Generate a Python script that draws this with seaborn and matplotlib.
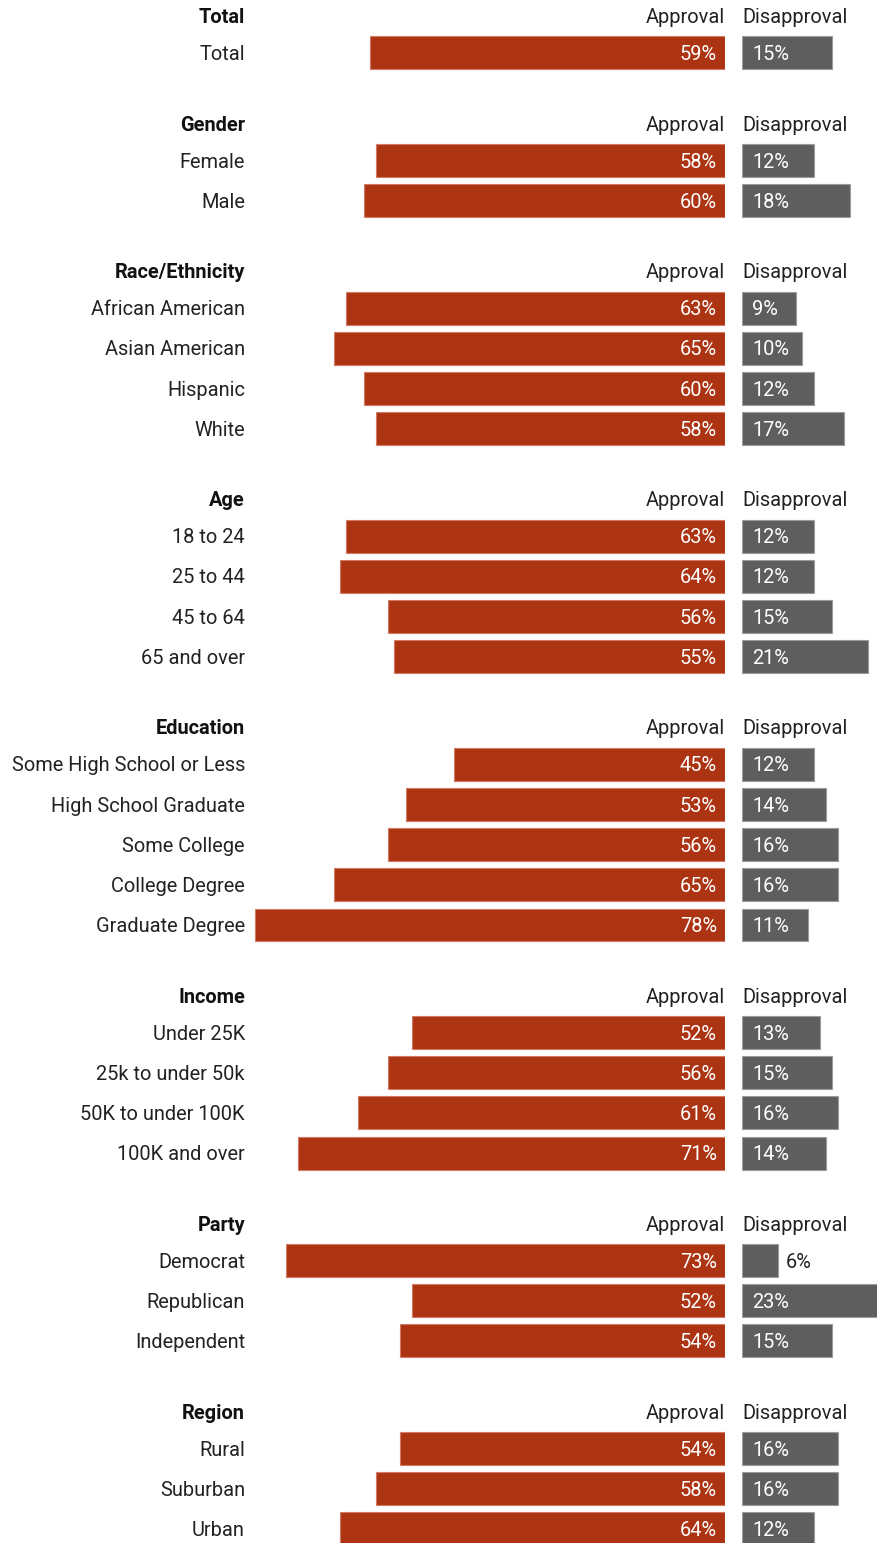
import numpy as np
import pandas as pd
import matplotlib.pyplot as plt
import seaborn as sns

# Data
groups = ['Total', 'Gender', 'Race/Ethnicity', 'Age', 'Education',
          'Income', 'Party', 'Region']
labels = [
    ['Total'],
    ['Female', 'Male'],
    ['African American', 'Asian American', 'Hispanic', 'White'],
    ['18 to 24', '25 to 44', '45 to 64', '65 and over'],
    ['Some High School or Less', 'High School Graduate', 'Some College',
     'College Degree', 'Graduate Degree'],
    ['Under 25K', '25k to under 50k', '50K to under 100K', '100K and over'],
    ['Democrat', 'Republican', 'Independent'],
    ['Rural', 'Suburban', 'Urban'],
]
approval = [
    [59],
    [58, 60],
    [63, 65, 60, 58],
    [63, 64, 56, 55],
    [45, 53, 56, 65, 78],
    [52, 56, 61, 71],
    [73, 52, 54],
    [54, 58, 64],
]
disapproval = [
    [15],
    [12, 18],
    [9, 10, 12, 17],
    [12, 12, 15, 21],
    [12, 14, 16, 16, 11],
    [13, 15, 16, 14],
    [6, 23, 15],
    [16, 16, 12],
]

red = '#ad3413'
gray = '#5e5e5e'

# Vertical layout in row units
header_gap = 0.92
group_gap = 1.76

rows = []
headers = []
y = 0.0
for g, labs, ap, dis in zip(groups, labels, approval, disapproval):
    headers.append((g, y))
    y += header_gap
    for i, (lab, a, d) in enumerate(zip(labs, ap, dis)):
        rows.append({'group': g, 'label': lab, 'y': y,
                     'approval': a, 'disapproval': d})
        if i < len(labs) - 1:
            y += 1
    y += group_gap
df = pd.DataFrame(rows)

sns.set_theme(style='white')
plt.rcParams['font.family'] = ['Roboto', 'DejaVu Sans']

W, H = 878, 1543
fig = plt.figure(figsize=(W / 100, H / 100), dpi=100)

px_per_pct = 6.02
row_px = 40.15
top_px = 16
bar_end = 725
dis_start = 742

ylim = ((H - top_px) / row_px, -top_px / row_px)

ax1 = fig.add_axes([0, 0, bar_end / W, 1])
ax2 = fig.add_axes([dis_start / W, 0, (W - dis_start) / W, 1])

sns.barplot(data=df, x='approval', y='y', orient='y', native_scale=True,
            color=red, saturation=1, width=0.82, errorbar=None,
            edgecolor='#d27a64', linewidth=0.8, ax=ax1)
sns.barplot(data=df, x='disapproval', y='y', orient='y', native_scale=True,
            color=gray, saturation=1, width=0.82, errorbar=None,
            edgecolor='#9c9c9c', linewidth=0.8, ax=ax2)

ax1.set_xlim(bar_end / px_per_pct, 0)
ax2.set_xlim(0, (W - dis_start) / px_per_pct)
for ax in (ax1, ax2):
    ax.set_ylim(*ylim)
    ax.axis('off')

fs = 14.4
label_x = 245 / W
txt = '#222222'
shift = 1.5 / row_px  # nudge text down a touch

def fig_y(yv):
    return 1 - (top_px + (yv + shift) * row_px) / H

# Group headers and column titles
for g, yv in headers:
    fig.text(label_x, fig_y(yv), g, ha='right', va='center',
             fontsize=fs, fontweight='bold', color='#111111')
    fig.text(bar_end / W, fig_y(yv), 'Approval', ha='right', va='center',
             fontsize=fs, color=txt)
    fig.text(dis_start / W, fig_y(yv), 'Disapproval', ha='left', va='center',
             fontsize=fs, color=txt)

# Row labels and value labels
for _, r in df.iterrows():
    fig.text(label_x, fig_y(r['y']), r['label'], ha='right', va='center',
             fontsize=fs, color=txt)
    yt = r['y'] + shift
    ax1.text(8 / px_per_pct, yt, f"{r['approval']}%",
             ha='right', va='center', fontsize=fs, color='white')
    if r['disapproval'] >= 8:
        ax2.text(10 / px_per_pct, yt, f"{r['disapproval']}%",
                 ha='left', va='center', fontsize=fs, color='white')
    else:
        ax2.text(r['disapproval'] + 8 / px_per_pct, yt,
                 f"{r['disapproval']}%", ha='left', va='center',
                 fontsize=fs, color=txt)

fig.savefig('out.png', dpi=100, facecolor='white')
